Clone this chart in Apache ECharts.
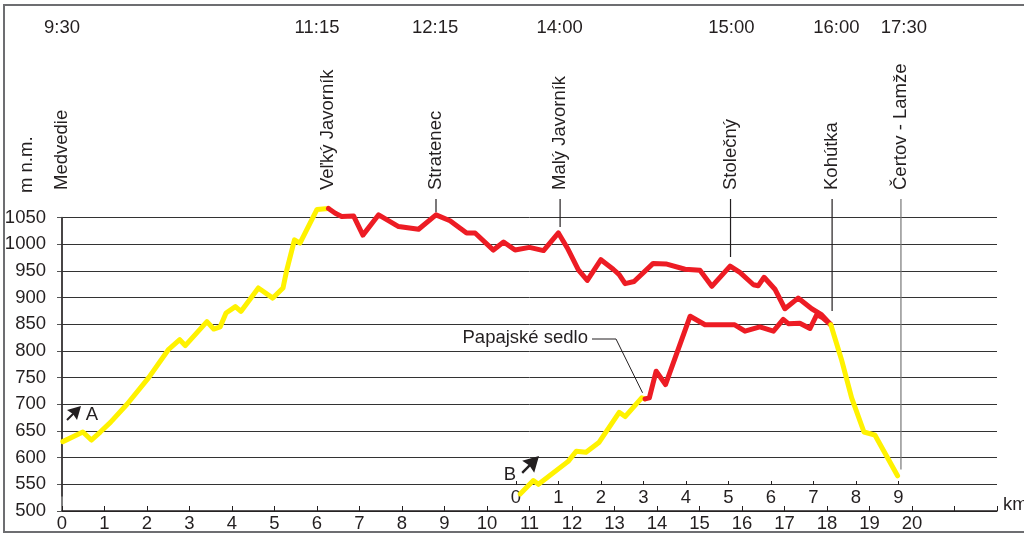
<!DOCTYPE html>
<html>
<head>
<meta charset="utf-8">
<script src="https://cdn.jsdelivr.net/npm/echarts@6/dist/echarts.min.js"></script>
<style>
  html, body { margin: 0; padding: 0; background: #fff; }
  #chart { width: 1024px; height: 533px; }
</style>
</head>
<body>
<div id="chart"></div>
<script>
// route A: Medvedie -> Veľký Javorník (yellow)
const climbA = [[0.02,630],[0.49,648],[0.69,633],[0.9,648],[1.14,666],[1.53,700],[2.04,750],[2.51,803],
  [2.77,821],[2.9,810],[3.41,855],[3.57,841],[3.72,845],[3.86,871],[4.08,883],[4.21,874],[4.62,918],
  [4.96,899],[5.2,918],[5.29,952],[5.47,1008],[5.6,1002],[6.0,1065],[6.27,1067]]
// ridge (red) Veľký Javorník -> Kohútka
const ridgeA = [[6.27,1067],[6.43,1058],[6.58,1052],[6.86,1053],[7.08,1017],[7.45,1055],[7.92,1033],
  [8.39,1028],[8.8,1055],[9.13,1044],[9.52,1021],[9.72,1021],[10.15,989],[10.39,1004],[10.66,989],
  [11.0,994],[11.33,988],[11.68,1021],[11.89,993],[12.15,952],[12.36,932],[12.68,971],[12.97,953],
  [13.11,943],[13.25,926],[13.46,930],[13.91,964],[14.21,963],[14.66,953],[15.01,951],[15.29,921],
  [15.72,959],[15.95,947],[16.27,924],[16.38,922],[16.52,938],[16.78,915],[17.01,879],[17.32,899],
  [17.64,879],[17.87,868],[18.09,849]]
// route B: start -> Papajské sedlo (yellow)
const climbB = [[10.78,532],[11.09,557],[11.21,550],[11.91,593],[12.1,612],[12.33,610],[12.64,629],
  [13.11,685],[13.25,677],[13.64,712],[13.72,710]]
// route B: Papajské sedlo -> Kohútka (red)
const ridgeB = [[13.72,710],[13.82,712],[13.98,762],[14.2,737],[14.78,865],[15.13,849],[15.83,849],
  [16.07,837],[16.42,845],[16.74,837],[16.97,859],[17.09,851],[17.36,852],[17.6,842],[17.76,868],
  [17.9,862],[18.09,849]]
// descent Kohútka -> Čertov - Lamže (yellow)
const descent = [[18.09,849],[18.34,784],[18.58,712],[18.87,648],[19.13,642],[19.66,566]]

const timeLabels = ['9:30', '11:15', '12:15', '14:00', '15:00', '16:00', '17:30']
const timeKm = [0, 6, 8.78, 11.71, 15.75, 18.22, 19.81]
const placeNames = ['Medvedie', 'Veľký Javorník', 'Stratenec', 'Malý Javorník', 'Stolečný', 'Kohútka', 'Čertov - Lamže']
const placeKm = [0, 6.25, 8.8, 11.72, 15.73, 18.12, 19.74]
const pointerEnd = [null, null, 1060, 1032, 976, 875, 578]

const YELLOW = '#fff200'
const RED = '#ed1c24'
const INK = '#231f20'
const FONT = '"Liberation Sans", Arial, sans-serif'
const FS = 18.5

const chart = echarts.init(document.getElementById('chart'))

function track(data, color) {
  return {
    type: 'line', data, xAxisIndex: 0, yAxisIndex: 0,
    showSymbol: false, symbol: 'none', z: 3, clip: false,
    lineStyle: { color, width: 5, join: 'round', cap: 'round' },
  }
}

chart.setOption({
  animation: false,
  textStyle: { fontFamily: FONT },
  grid: [
    { left: 62, right: 27, top: 217.5, bottom: 21 },
    { left: 516, width: 382.5, top: 300, bottom: 48 },
  ],
  xAxis: [{
    type: 'value', gridIndex: 0, min: 0, max: 22, interval: 1,
    axisLine: { lineStyle: { color: INK, width: 1.5 } },
    axisTick: { inside: true, length: 5, lineStyle: { color: INK } },
    axisLabel: { fontSize: FS, color: INK, margin: 3, formatter: (v) => v <= 20 ? String(v) : '' },
    splitLine: { show: false },
  }, {
    type: 'value', gridIndex: 1, min: 0, max: 9, interval: 1,
    axisLine: { show: false },
    axisTick: { inside: true, length: 4, lineStyle: { color: INK } },
    axisLabel: { fontSize: FS, color: INK, margin: 3 },
    splitLine: { show: false },
  }],
  yAxis: [{
    type: 'value', gridIndex: 0, min: 500, max: 1050, interval: 50, offset: 9,
    axisLine: { show: true, lineStyle: { color: '#555', width: 1.5 } },
    axisTick: { show: true, length: 5, lineStyle: { color: '#555' } },
    axisLabel: { fontSize: FS, color: INK, margin: 7, formatter: (v) => String(v) },
    splitLine: { lineStyle: { color: '#333', width: 1 } },
  }, {
    type: 'value', gridIndex: 1, show: false,
  }],
  series: [
    track(climbA, YELLOW),
    track(ridgeA, RED),
    track(climbB, YELLOW),
    track(ridgeB, RED),
    track(descent, YELLOW),
  ],
})

function drawAnnotations() {
  const px = (km, elev) => chart.convertToPixel({ gridIndex: 0 }, [km, elev])
  const font = FS + 'px ' + FONT
  const g = []
  // frame
  g.push({ type: 'rect', shape: { x: 4, y: 5, width: 1040, height: 527 },
    style: { fill: 'none', stroke: '#6d6e71', lineWidth: 2 }, z: 1 })
  // left border of the plot
  const l0 = px(0, 1050), l1 = px(0, 527)
  g.push({ type: 'line', shape: { x1: l0[0], y1: l0[1], x2: l1[0], y2: l1[1] },
    style: { stroke: INK, lineWidth: 1.2 }, z: 2 })
  // times
  timeLabels.forEach((t, i) => {
    g.push({ type: 'text', x: px(timeKm[i], 500)[0], y: 28,
      style: { text: t, font, fill: INK, align: 'center', verticalAlign: 'middle' } })
  })
  // place names + pointer lines
  placeNames.forEach((n, i) => {
    const x = px(placeKm[i], 500)[0]
    g.push({ type: 'text', x, y: 190, rotation: Math.PI / 2,
      style: { text: n, font, fill: INK, align: 'left', verticalAlign: 'middle' } })
    if (pointerEnd[i] != null) {
      const y2 = px(placeKm[i], pointerEnd[i])[1]
      g.push({ type: 'line', shape: { x1: x, y1: 199, x2: x, y2 },
        style: { stroke: i === 6 ? '#777' : INK, lineWidth: 1.2 }, z: 2 })
    }
  })
  // axis name
  g.push({ type: 'text', x: 27, y: 193, rotation: Math.PI / 2,
    style: { text: 'm n.m.', font, fill: INK, align: 'left', verticalAlign: 'middle' } })
  g.push({ type: 'text', x: 1003, y: 505,
    style: { text: 'km', font, fill: INK, align: 'left', verticalAlign: 'middle' } })
  // Papajské sedlo callout
  const p = px(13.66, 714)
  g.push({ type: 'text', x: 588, y: 338,
    style: { text: 'Papajské sedlo', font, fill: INK, align: 'right', verticalAlign: 'middle' } })
  g.push({ type: 'polyline', shape: { points: [[592, 339], [616, 339], [p[0], p[1] - 4]] },
    style: { stroke: INK, lineWidth: 1, fill: 'none' }, z: 2 })
  // A / B arrows
  const arrow = (tx, ty, s) => ({
    type: 'group', x: tx, y: ty, scaleX: s, scaleY: s, z: 5,
    children: [
      { type: 'polygon', shape: { points: [[0, 0], [-14, 4], [-8, 8], [-4, 14]] }, style: { fill: INK } },
      { type: 'line', shape: { x1: -7, y1: 7, x2: -14, y2: 14 }, style: { stroke: INK, lineWidth: 2 } },
    ],
  })
  g.push(arrow(81, 406, 1))
  g.push({ type: 'text', x: 92, y: 415,
    style: { text: 'A', font, fill: INK, align: 'center', verticalAlign: 'middle' } })
  g.push(arrow(539, 456, 1.2))
  g.push({ type: 'text', x: 510, y: 475,
    style: { text: 'B', font, fill: INK, align: 'center', verticalAlign: 'middle' } })
  chart.setOption({ graphic: g })
}

drawAnnotations()
</script>
</body>
</html>
